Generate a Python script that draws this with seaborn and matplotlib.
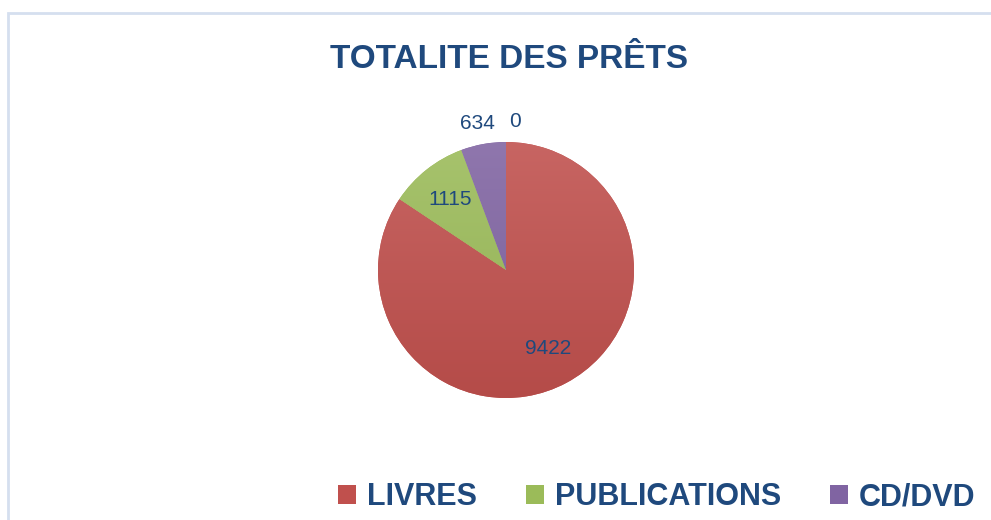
import numpy as np
import seaborn as sns
import matplotlib.pyplot as plt
from matplotlib.patches import Rectangle, Patch
from matplotlib.colors import LinearSegmentedColormap, to_rgb

sns.set_theme(style="white")
plt.rcParams['font.family'] = ['Liberation Sans', 'DejaVu Sans']

# data
categories = ['LIVRES', 'PUBLICATIONS', 'CD/DVD', '']
values = [9422, 1115, 634, 0]
colors = ['#C0504D', '#9BBB59', '#8064A2', '#4BACC6']
label_color = '#1F497D'

fig = plt.figure(figsize=(9.91, 5.2), dpi=100)

# chart frame
fig.patches.append(Rectangle((8 / 991, -0.1), 1.2, (520 - 13) / 520 + 0.1,
                             transform=fig.transFigure, fill=False,
                             edgecolor='#D5DFEF', linewidth=2))

fig.text(509 / 991, 1 - 60 / 520, 'TOTALITE DES PRÊTS', ha='center', va='center',
         fontsize=24, fontweight='bold', color=label_color)

ax = fig.add_axes([(506 - 128) / 991, (520 - 398) / 520, 256 / 991, 256 / 520])
wedges, _ = ax.pie(values, colors=colors, startangle=90, counterclock=False,
                   radius=1, wedgeprops=dict(linewidth=0))
ax.set_aspect('equal')


def lighten(c, f):
    r, g, b = to_rgb(c)
    return (r + (1 - r) * f, g + (1 - g) * f, b + (1 - b) * f)


def darken(c, f):
    r, g, b = to_rgb(c)
    return (r * (1 - f), g * (1 - f), b * (1 - f))


# soft vertical gradient, lighter at the top
grad = np.linspace(0, 1, 256).reshape(-1, 1)
for w, c in zip(wedges, colors):
    if w.theta2 - w.theta1 <= 0:
        continue
    cmap = LinearSegmentedColormap.from_list('g', [lighten(c, 0.12), darken(c, 0.06)])
    im = ax.imshow(grad, cmap=cmap, extent=(-1, 1, -1, 1), origin='upper',
                   aspect='auto', zorder=w.get_zorder() + 0.1)
    im.set_clip_path(w)
ax.set_xlim(-1, 1)
ax.set_ylim(-1, 1)

# data labels: inside for big slices, outside for small ones
total = sum(values)
for w, v in zip(wedges, values):
    mid = np.deg2rad((w.theta1 + w.theta2) / 2)
    share = v / total
    r = 0.70 if share > 0.08 else 1.16
    dx = 0.0
    if share == 0:
        dx = 0.07
    elif share < 0.08:
        dx = -0.02
    ax.text(r * np.cos(mid) + dx, r * np.sin(mid), str(v), ha='center', va='center',
            fontsize=15, color=label_color, zorder=5)

handles = [Patch(facecolor=c, edgecolor='none') for c in colors[:3]]
fig.legend(handles, categories[:3], loc='center right', bbox_to_anchor=(1.012, 1 - 497 / 520),
           ncol=3, frameon=False, handlelength=0.6, handleheight=0.6,
           handletextpad=0.35, columnspacing=1.6,
           prop=dict(weight='bold', size=22),
           labelcolor=label_color)

fig.savefig('out.png', dpi=100)
